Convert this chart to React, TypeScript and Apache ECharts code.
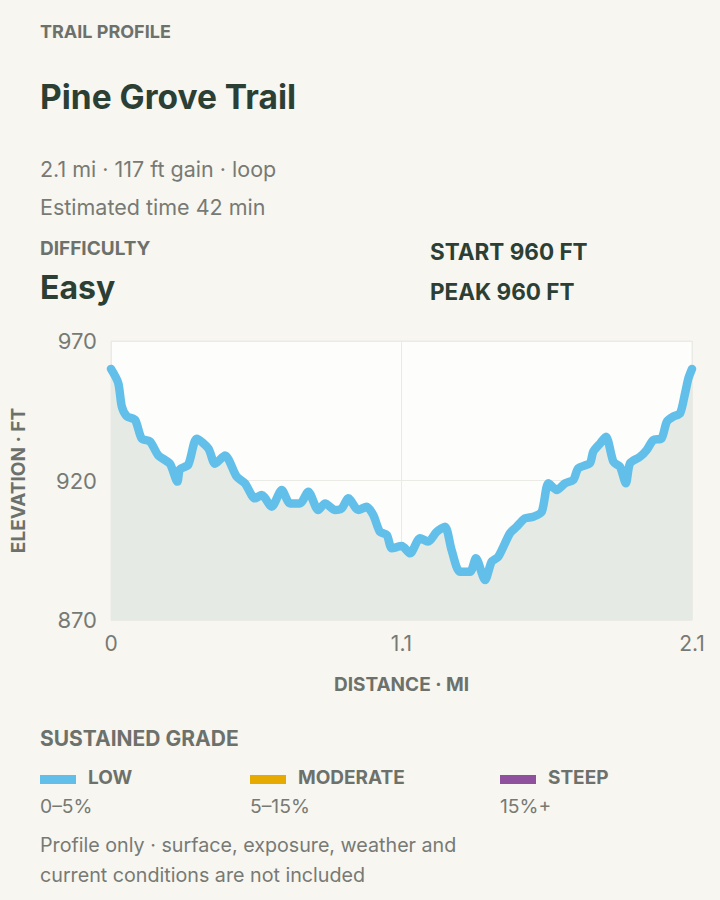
import React, { useEffect, useRef } from 'react';
import * as echarts from 'echarts';

// distance along the trail (mi) and elevation (ft)
const distanceMi = [
  0, 0.026, 0.039, 0.057, 0.087, 0.111, 0.141, 0.171, 0.213, 0.24, 0.249, 0.279, 0.31, 0.352,
  0.376, 0.412, 0.454, 0.484, 0.52, 0.545, 0.581, 0.617, 0.647, 0.683, 0.713, 0.749, 0.774,
  0.81, 0.834, 0.858, 0.894, 0.924, 0.948, 0.972, 0.997, 1.015, 1.051, 1.081, 1.117, 1.147,
  1.177, 1.207, 1.231, 1.261, 1.298, 1.319, 1.352, 1.376, 1.4, 1.442, 1.466, 1.496, 1.526,
  1.557, 1.581, 1.611, 1.641, 1.671, 1.689, 1.731, 1.743, 1.768, 1.789, 1.816, 1.84, 1.861,
  1.876, 1.912, 1.936, 1.96, 1.99, 2.009, 2.032, 2.057, 2.075, 2.087, 2.1
];
const elevationFt = [
  960, 955, 946.5, 943, 941.7, 935, 934, 929, 926, 919.6, 924, 925.6, 935, 931.5,
  926, 929, 921.4, 919, 913.6, 914.8, 910.6, 916.6, 911.8, 911.8, 916, 909.4, 911.8,
  909.4, 910, 913.6, 909.4, 910.6, 907.6, 901.6, 900.5, 895.7, 896.5, 893.9, 899.3, 898.1,
  901.6, 903.4, 895.1, 887.3, 887.3, 892.1, 884.3, 890.9, 892.7, 901.1, 903.4, 906.4, 907,
  908.8, 919, 916.6, 919, 920.2, 924.4, 926.2, 930.3, 933.3, 935.7, 926.7, 924.9, 919,
  926.2, 928.5, 930.9, 934.5, 935.1, 941.1, 942.9, 944.1, 951.3, 956.6, 960
];
const yTicks = [870, 920, 970];
const xTicks = [0, 1.05, 2.1];

const gradeNames = ['LOW', 'MODERATE', 'STEEP'];
const gradeRanges = ['0–5%', '5–15%', '15%+'];
const gradeColors = ['#62bfea', '#e6aa00', '#8f509d'];

const FONT = 'Inter, "Noto Sans", sans-serif';
const DARK = '#2c3f34';
const GREY = '#6d716b';
const SOFT = '#777a74';

const txt = (x: number, y: number, text: string, size: number, color: string, weight: any = 400) => ({
  type: 'text',
  x,
  y,
  style: {
    text,
    fill: color,
    font: `${weight} ${size}px ${FONT}`,
    textVerticalAlign: 'middle'
  }
});

const App: React.FC = () => {
  const chartRef = useRef<HTMLDivElement>(null);

  useEffect(() => {
    if (!chartRef.current) return;
    const chart = echarts.init(chartRef.current, undefined, { renderer: 'svg' });

    // grade legend: swatch + name on one row, range below
    const legendCols = [40, 250, 500];
    const legendItems: any[] = [];
    gradeNames.forEach((name, i) => {
      const x = legendCols[i];
      legendItems.push({
        type: 'rect',
        shape: { x, y: 775, width: 36, height: 9 },
        style: { fill: gradeColors[i] }
      });
      legendItems.push(txt(x + 48, 777, name, 19, GREY, 700));
      legendItems.push(txt(x, 806, gradeRanges[i], 19.3, SOFT));
    });

    chart.setOption({
      animation: false,
      backgroundColor: '#f7f6f1',
      textStyle: { fontFamily: FONT },
      grid: {
        left: 111,
        right: 28,
        top: 341,
        bottom: 280,
        outerBoundsMode: 'none',
        containLabel: false,
        show: true,
        backgroundColor: '#fdfdfb',
        borderColor: '#ebebe6',
        borderWidth: 1
      },
      xAxis: {
        type: 'value',
        min: 0,
        max: 2.1,
        interval: 1.05,
        name: 'DISTANCE · MI',
        nameLocation: 'middle',
        nameGap: 55,
        nameTextStyle: { color: GREY, fontSize: 19, fontWeight: 700, fontFamily: FONT },
        axisLine: { show: false },
        axisTick: { show: false, customValues: xTicks },
        axisLabel: {
          customValues: xTicks,
          color: SOFT,
          fontSize: 21,
          margin: 13,
          fontFamily: FONT,
          formatter: (v: number) => (v === 0 ? '0' : v.toFixed(1))
        },
        splitLine: { show: true, lineStyle: { color: '#ebebe6', width: 1 } }
      },
      yAxis: {
        type: 'value',
        min: 870,
        max: 970,
        name: 'ELEVATION · FT',
        nameLocation: 'middle',
        nameGap: 83,
        nameRotate: 90,
        nameTextStyle: { color: GREY, fontSize: 19, fontWeight: 700, fontFamily: FONT },
        axisLine: { show: false },
        axisTick: { show: false, customValues: yTicks },
        axisLabel: {
          customValues: yTicks,
          color: SOFT,
          fontSize: 22,
          margin: 14,
          fontFamily: FONT
        },
        splitLine: { show: true, lineStyle: { color: '#ebebe6', width: 1 } }
      },
      series: [
        {
          type: 'line',
          data: distanceMi.map((d, i) => [d, elevationFt[i]]),
          showSymbol: false,
          smooth: 0.25,
          lineStyle: { color: gradeColors[0], width: 8.5, cap: 'round', join: 'round' },
          areaStyle: { color: '#e5ebe4', opacity: 1, origin: 'start' },
          silent: true
        }
      ],
      graphic: [
        txt(40, 31, 'TRAIL PROFILE', 18, GREY, 700),
        txt(40, 97, 'Pine Grove Trail', 33.5, DARK, 700),
        txt(40, 169, '2.1 mi · 117 ft gain · loop', 21.5, SOFT),
        txt(40, 207, 'Estimated time 42 min', 21.5, SOFT),
        txt(40, 248, 'DIFFICULTY', 19, GREY, 700),
        txt(40, 287, 'Easy', 32, DARK, 700),
        txt(430, 251, 'START 960 FT', 22.5, DARK, 700),
        txt(430, 291, 'PEAK 960 FT', 22.5, DARK, 700),
        txt(40, 738, 'SUSTAINED GRADE', 21, GREY, 700),
        ...legendItems,
        txt(40, 845, 'Profile only · surface, exposure, weather and', 19.7, SOFT),
        txt(40, 875, 'current conditions are not included', 19.7, SOFT)
      ]
    });

    return () => {
      chart.dispose();
    };
  }, []);

  return (
    <div style={{ position: 'absolute', left: 0, top: 0, width: 720, height: 900, background: '#f7f6f1' }}>
      <div ref={chartRef} style={{ width: 720, height: 900 }} />
    </div>
  );
};

export default App;
